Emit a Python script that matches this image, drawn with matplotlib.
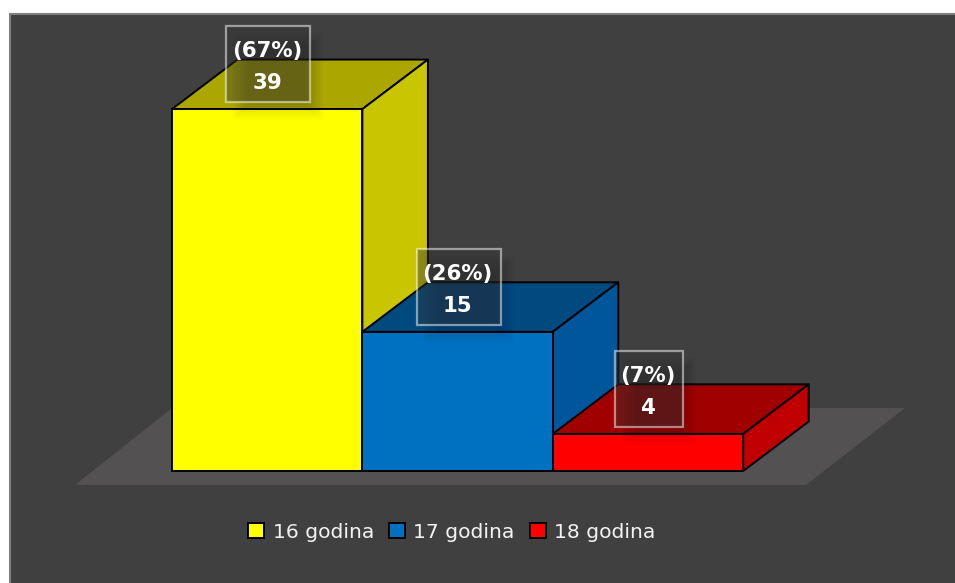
import matplotlib
matplotlib.use("Agg")
import matplotlib.pyplot as plt
from matplotlib.patches import Patch, Polygon, Rectangle

categories = ["16 godina", "17 godina", "18 godina"]
counts = [39, 15, 4]
percents = [67, 26, 7]
front_colors = ["#ffff00", "#0070c0", "#ff0000"]
top_colors = ["#aba700", "#004a80", "#a00000"]
side_colors = ["#c9c500", "#00569a", "#c00000"]

W, H = 955, 583
plt.rcParams["font.family"] = ["DejaVu Sans"]
fig = plt.figure(figsize=(W / 100, H / 100), dpi=100, facecolor="white")

# pixel axes for the panel and the floor
bg = fig.add_axes([0, 0, 1, 1])
bg.set_xlim(0, W)
bg.set_ylim(H, 0)
bg.axis("off")
bg.add_patch(Rectangle((9.5, 13.5), W, H, fc="#404040", ec="#7f7f7f", lw=1.5))
bg.add_patch(Polygon([(75, 485), (806, 485), (905, 408), (172, 408)], fc="#535151", ec="none"))

# data axes stretched over the figure so the bars come from real values
px_x = 190.4   # px per category
px_y = 9.28    # px per count
x0, y0 = 172, 471
ax = fig.add_axes([0, 0, 1, 1], facecolor="none")
ax.set_xlim(-x0 / px_x, (W - x0) / px_x)
ax.set_ylim(-(H - y0) / px_y, y0 / px_y)
ax.axis("off")

dx = 65.5 / px_x
dy = 49.5 / px_y

for i, v in enumerate(counts):
    ax.add_patch(Polygon([(i, v), (i + 1, v), (i + 1 + dx, v + dy), (i + dx, v + dy)],
                         fc=top_colors[i], ec="black", lw=1.4, joinstyle="round"))
    ax.add_patch(Polygon([(i + 1, 0), (i + 1 + dx, dy), (i + 1 + dx, v + dy), (i + 1, v)],
                         fc=side_colors[i], ec="black", lw=1.4, joinstyle="round"))
    ax.bar(i, v, width=1, align="edge", color=front_colors[i], edgecolor="black", linewidth=1.4)

# labels with soft shadow
for i, v in enumerate(counts):
    hw = 42 if i < 2 else 34
    cx = x0 + (i + 0.5) * px_x + 1
    cy = y0 - v * px_y - 45
    for g in range(16):
        ax.add_patch(Rectangle((cx - hw + 6 + g, cy - 38 + 6 + g), 2 * hw + 8 - 2 * g, 76 + 12 - 2 * g,
                               fc="black", ec="none", alpha=0.008, transform=bg.transData, zorder=4))
    ax.annotate("(%d%%)" % percents[i], (i + 0.5, v), xytext=(0, 58 * 0.72), textcoords="offset points",
                ha="center", va="center", color="white", fontsize=15.3, fontweight="bold", zorder=6)
    ax.annotate(str(v), (i + 0.5, v), xytext=(0, 26 * 0.72), textcoords="offset points",
                ha="center", va="center", color="white", fontsize=15.3, fontweight="bold", zorder=6)
    ax.add_patch(Rectangle((cx - hw, cy - 38), 2 * hw, 76, fc=(0.2, 0.2, 0.2, 0.42),
                           ec=(1, 1, 1, 0.5), lw=1.6, transform=bg.transData, zorder=5))

handles = [Patch(fc=c, ec="black", lw=1.4, label=n) for c, n in zip(front_colors, categories)]
ax.legend(handles=handles, ncol=3, frameon=False, loc="center",
          bbox_to_anchor=(452 / W, 1 - 532 / H), bbox_transform=fig.transFigure,
          fontsize=14.6, labelcolor="#f2f2f2", handlelength=0.8, handleheight=0.8,
          handletextpad=0.4, columnspacing=0.75)

fig.savefig("out.png", dpi=100)
